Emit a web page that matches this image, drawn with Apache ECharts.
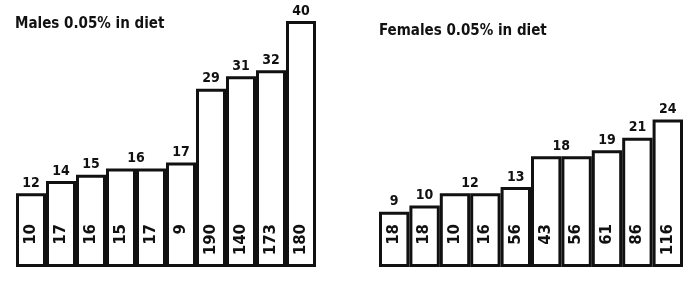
<!DOCTYPE html>
<html>
<head>
<meta charset="utf-8">
<script src="https://cdn.jsdelivr.net/npm/echarts@6/dist/echarts.min.js"></script>
<style>
  html, body { margin: 0; padding: 0; background: #fff; }
  #chart { width: 691px; height: 308px; }
</style>
</head>
<body>
<div id="chart"></div>
<script>
// bar heights (value printed above the bar)
const maleHeights = [12, 14, 15, 16, 16, 17, 29, 31, 32, 40];
const maleTop = ['12', '14', '15', '16', '', '17', '29', '31', '32', '40'];
// numbers written inside the bars
const maleCounts = ['10', '17', '16', '15', '17', '9', '190', '140', '173', '180'];

const femaleHeights = [9, 10, 12, 12, 13, 18, 18, 19, 21, 24];
const femaleTop = ['9', '10', '12', '', '13', '18', '', '19', '21', '24'];
const femaleCounts = ['18', '18', '10', '16', '56', '43', '56', '61', '86', '116'];

const cats = ['1', '2', '3', '4', '5', '6', '7', '8', '9', '10'];

const ink = '#111';
const condensed = '"DejaVu Sans Condensed", "DejaVu Sans", sans-serif';

function topData(heights, tops) {
  return heights.map((h, i) => {
    // one label shared by two equal bars -> put it over their joint
    const shared = tops[i] !== '' && tops[i + 1] === '';
    return {
      value: h,
      label: { formatter: tops[i], offset: shared ? [15, 0] : [0, 0] }
    };
  });
}

function makeSeries(idx, heights, tops, counts) {
  return [
    {
      type: 'bar',
      xAxisIndex: idx, yAxisIndex: idx,
      data: topData(heights, tops),
      barCategoryGap: 0,
      itemStyle: { color: '#fff', borderColor: ink, borderWidth: 3 },
      label: {
        show: true, position: 'top', distance: 3,
        color: ink, fontFamily: condensed, fontWeight: 'bold', fontSize: 14
      },
      silent: true
    },
    {
      type: 'bar',
      xAxisIndex: idx, yAxisIndex: idx,
      data: heights.map((h, i) => ({ value: h, label: { formatter: counts[i] } })),
      barGap: '-100%',
      barCategoryGap: 0,
      itemStyle: { color: 'rgba(0,0,0,0)' },
      label: {
        show: true, position: 'insideBottom', distance: 43,
        rotate: 90, align: 'right', verticalAlign: 'middle',
        color: ink, fontFamily: 'DejaVu Sans', fontWeight: 'bold', fontSize: 15
      },
      silent: true
    }
  ];
}

const hiddenX = i => ({ type: 'category', gridIndex: i, data: cats, show: false });
const hiddenY = i => ({ type: 'value', gridIndex: i, min: 0, max: 40, show: false });

const chart = echarts.init(document.getElementById('chart'));
chart.setOption({
  animation: false,
  title: [
    { text: 'Males 0.05% in diet', left: 15, top: 17, padding: 0,
      textStyle: { fontFamily: condensed, fontWeight: 'bold', fontSize: 15, color: ink } },
    { text: 'Females 0.05% in diet', left: 379, top: 24, padding: 0,
      textStyle: { fontFamily: condensed, fontWeight: 'bold', fontSize: 15, color: ink } }
  ],
  grid: [
    { left: 16, width: 300, top: 21, bottom: 41 },
    { left: 379, width: 304, top: 21, bottom: 41 }
  ],
  xAxis: [hiddenX(0), hiddenX(1)],
  yAxis: [hiddenY(0), hiddenY(1)],
  series: [
    ...makeSeries(0, maleHeights, maleTop, maleCounts),
    ...makeSeries(1, femaleHeights, femaleTop, femaleCounts)
  ]
});
</script>
</body>
</html>
